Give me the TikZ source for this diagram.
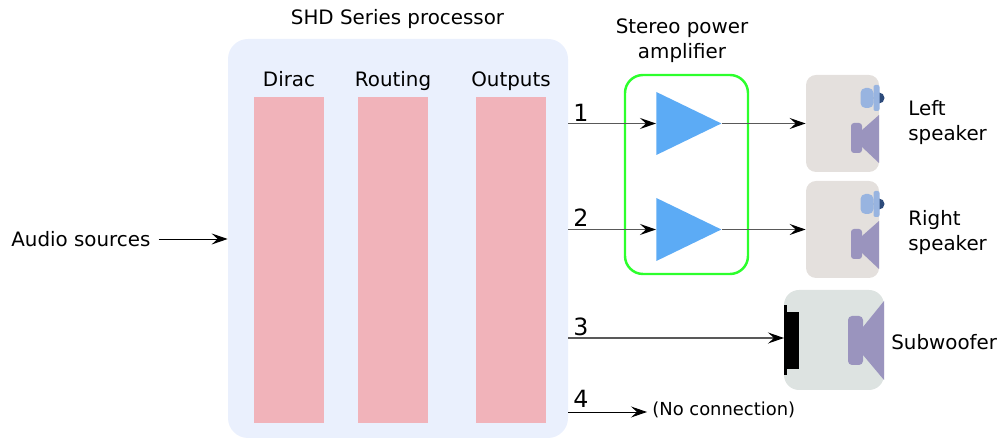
\documentclass[tikz,border=0pt]{standalone}
\usepackage{fontspec}
\setmainfont{DejaVu Sans}
\definecolor{procbg}{HTML}{EAF0FD}
\definecolor{barpink}{HTML}{F1B3BA}
\definecolor{ampblue}{HTML}{5CABF5}
\definecolor{ampgreen}{HTML}{2CFF2C}
\definecolor{spkbox}{HTML}{E4E0DD}
\definecolor{subbox}{HTML}{DDE3E1}
\definecolor{conecol}{HTML}{9A94BE}
\definecolor{tweetcol}{HTML}{98B4E0}
\definecolor{domecol}{HTML}{2C4A7A}
\usetikzlibrary{shapes.geometric, arrows.meta}
\tikzset{
  lbl/.style={font=\fontsize{11.3}{14.2}\selectfont, inner sep=0pt},
  numlbl/.style={font=\fontsize{13.5}{16}\selectfont, inner sep=0pt},
  bar/.style={fill=barpink, minimum width=1.4cm, minimum height=6.52cm, inner sep=0pt},
  ampl/.style={isosceles triangle, isosceles triangle stretches, fill=ampblue, minimum width=1.26cm, minimum height=1.3cm, inner sep=0pt, anchor=lower side},
  spk/.style={fill=spkbox, rounded corners=.2cm, minimum width=1.46cm, minimum height=1.94cm, inner sep=0pt},
  sig/.style={draw=black!65, line width=.8pt, -{Stealth[length=3.2mm,width=2.2mm,inset=1.2mm,black]}},
  thin sig/.style={draw=black, line width=.55pt, -{Stealth[length=3.2mm,width=2.2mm,inset=1.2mm,black]}}
}
\begin{document}
\begin{tikzpicture}
  \useasboundingbox (0,0) rectangle (19.98,8.76);
  \node[fill=procbg, rounded corners=.4cm, minimum width=6.8cm, minimum height=7.98cm, inner sep=0pt] (proc) at (7.96,3.99) {};
  \node[lbl] (proctitle) at (7.95,8.37) {SHD Series processor};
  \foreach \x/\name/\label in {5.78/dirac/Dirac, 7.86/routing/Routing, 10.22/outputs/Outputs} {
    \node[bar] (\name) at (\x,3.56) {};
    \node[lbl, anchor=base] (\name lbl) at (\x,7.02) {\label};
  }
  % amplifier
  \node[draw=ampgreen, line width=1.4pt, rounded corners=.36cm, minimum width=2.46cm, minimum height=3.98cm, inner sep=0pt] (ampbox) at (13.73,5.27) {};
  \node[lbl, align=center] (amptitle) at (13.64,7.94) {Stereo power\\amplifier};
  \node[ampl] (ampa) at (13.12,6.29) {};
  \node[ampl] (ampb) at (13.12,4.17) {};
  % speakers
  \foreach \y/\name in {6.29/spkl, 4.17/spkr} {
    \node[spk] (\name) at (16.85,\y) {};
    \begin{scope}[shift={(16.85,\y)}]
      \fill[domecol] (.73,.51) circle (.11);
      \fill[tweetcol, rounded corners=.1cm] (.36,.31) rectangle (.62,.71);
      \fill[tweetcol, rounded corners=.04cm] (.62,.25) rectangle (.74,.77);
      \fill[conecol] (.39,-.13) -- (.73,.17) -- (.73,-.79) -- (.39,-.47) -- cycle;
      \fill[conecol, rounded corners=.06cm] (.17,.01) rectangle (.39,-.59);
    \end{scope}
  }
  \node[lbl, align=left, anchor=west] (spkllbl) at (18.16,6.31) {Left\\speaker};
  \node[lbl, align=left, anchor=west] (spkrlbl) at (18.16,4.11) {Right\\speaker};
  % subwoofer
  \node[fill=subbox, rounded corners=.3cm, minimum width=2cm, minimum height=2cm, inner sep=0pt] (sub) at (16.68,1.96) {};
  \fill[conecol] (17.26,2.22) -- (17.68,2.74) -- (17.68,1.16) -- (17.26,1.66) -- cycle;
  \fill[conecol, rounded corners=.08cm] (16.96,2.44) rectangle (17.26,1.46);
  \fill[black] (15.74,2.52) rectangle (15.98,1.38);
  \fill[black] (15.68,2.66) rectangle (15.74,1.26);
  \node[lbl, anchor=west] (sublbl) at (17.82,1.92) {Subwoofer};
  % connectors
  \node[lbl, anchor=west, inner xsep=.12cm] (source) at (.1,3.98) {Audio sources};
  \coordinate (sourceout) at ([xshift=.04cm]source.east);
  \draw[thin sig] (sourceout) -- (proc.west |- sourceout);
  \node[font=\fontsize{10.2}{12}\selectfont, anchor=west, inner sep=0pt, inner xsep=.1cm] (nocon) at (12.94,.56) {(No connection)};
  \coordinate (subin) at (15.68,2.0);
  \coordinate (noconin) at (12.94,.52);
  \draw[sig] (proc.east |- ampa.lower side) -- (ampa.lower side);
  \draw[sig] (proc.east |- ampb.lower side) -- (ampb.lower side);
  \draw[sig] (ampa.apex) -- (spkl.west);
  \draw[sig] (ampb.apex) -- (spkr.west);
  \draw[sig] (proc.east |- subin) -- (subin);
  \draw[thin sig] (proc.east |- noconin) -- (noconin);
  \foreach \y/\n in {6.51/1, 4.41/2, 2.23/3, .79/4} {
    \node[numlbl] (num\n) at (11.62,\y) {\n};
  }
\end{tikzpicture}
\end{document}
